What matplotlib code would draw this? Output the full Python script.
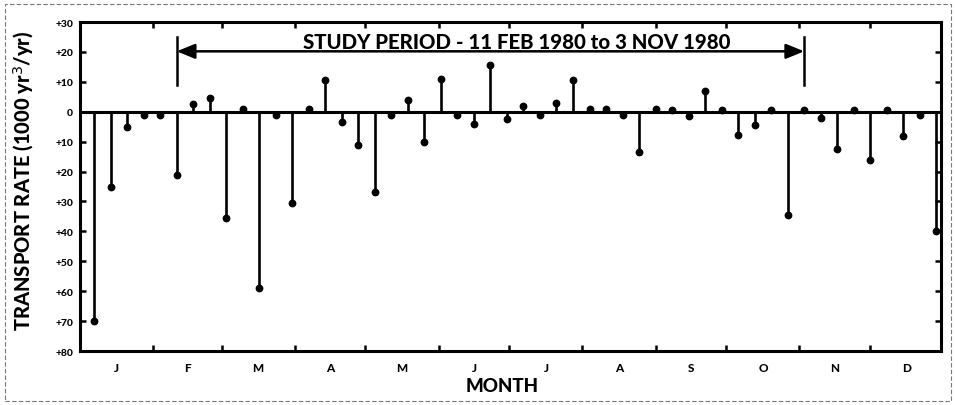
import matplotlib.pyplot as plt
from matplotlib.patches import Rectangle

# Weekly transport rate, day of year 1980 (0 = 1 Jan)
days = [6, 13, 20, 27, 34, 41, 48, 55, 62, 69, 76, 83, 90, 97, 104, 111, 118,
        125, 132, 139, 146, 153, 160, 167, 174, 181, 188, 195, 202, 209, 216,
        223, 230, 237, 244, 251, 258, 265, 272, 279, 286, 293, 300, 307, 314,
        321, 328, 335, 342, 349, 356, 363]
rate = [-70, -25, -5, -1, -1, -21, 2.5, 4.5, -35.5, 1, -59, -1.2, -30.5, 0.8,
        10.5, -3.5, -11, -27, -1.2, 3.8, -10, 11, -1.2, -4, 15.5, -2.3, 2,
        -1.2, 3, 10.5, 1, 1, -1.2, -13.5, 1, 0.7, -1.5, 7, 0.5, -7.7, -4.5,
        0.5, -34.5, 0.5, -2, -12.5, 0.5, -16, 0.7, -8, -1.2, -40]

month_starts = [0, 31, 60, 91, 121, 152, 182, 213, 244, 274, 305, 335, 366]
month_labels = ["J", "F", "M", "A", "M", "J", "J", "A", "S", "O", "N", "D"]
y_ticks = [30, 20, 10, 0, -10, -20, -30, -40, -50, -60, -70, -80]
y_tick_labels = ["+30", "+20", "+10", "0", "+10", "+20", "+30", "+40",
                 "+50", "+60", "+70", "+80"]

study_start, study_end = 41, 307
study_text = "STUDY PERIOD - 11 FEB 1980 to 3 NOV 1980"

plt.rcParams['font.family'] = ['Lato', 'DejaVu Sans']

fig = plt.figure(figsize=(9.55, 4.06), dpi=100)
ax = fig.add_axes([0.0838, 0.133, 0.9015, 0.8103])

# stems with dot heads
ax.vlines(days, 0, rate, color='black', linewidth=1.9)
ax.plot(days, rate, 'o', color='black', markersize=4.6)
ax.axhline(0, color='black', linewidth=2.2)

ax.set_xlim(0, 365)
ax.set_ylim(-80, 30)

# month boundaries as inward ticks, letters centred in each month
ax.set_xticks(month_starts[1:-1])
ax.set_xticklabels([])
mids = [(a + b) / 2 for a, b in zip(month_starts[:-1], month_starts[1:])]
ax.set_xticks(mids, minor=True)
ax.set_xticklabels(month_labels, minor=True, fontsize=8.5, fontweight='black')
ax.tick_params(axis='x', which='major', direction='in', top=True,
               length=4, width=1.8)
ax.tick_params(axis='x', which='minor', length=0, pad=8)

ax.set_yticks(y_ticks)
ax.set_yticklabels(y_tick_labels, fontsize=7.5, fontweight='black')
ax.tick_params(axis='y', direction='in', right=True, length=4, width=1.8,
               pad=5)

for s in ax.spines.values():
    s.set_linewidth(2.2)

ax.set_xlabel("MONTH", fontsize=13.5, fontweight='black')
ax.xaxis.label.set_va('center')
ax.xaxis.set_label_coords(0.49, -0.104)
ax.set_ylabel("TRANSPORT RATE (1000 yr$^3$/yr)", fontsize=14.5,
              fontweight='black')
ax.yaxis.set_label_coords(-0.051, 0.52)

# study period bracket
for d in (study_start, study_end):
    ax.plot([d, d], [9, 25], color='black', linewidth=1.8)
ax.annotate("", xy=(study_start, 20.2), xytext=(study_end, 20.2),
            arrowprops=dict(arrowstyle='<|-|>,head_length=1.1,head_width=0.45',
                            color='black', lw=1.8, shrinkA=0, shrinkB=0))
ax.text((study_start + study_end) / 2 + 11, 21.2, study_text,
        ha='center', va='baseline', fontsize=14.7, fontweight='black')

# page border
fig.patches.append(Rectangle((0.005, 0.01), 0.991, 0.978,
                             transform=fig.transFigure, fill=False,
                             edgecolor='#777777', linewidth=0.8,
                             linestyle=(0, (4, 2))))

fig.savefig("out.png", dpi=100)
